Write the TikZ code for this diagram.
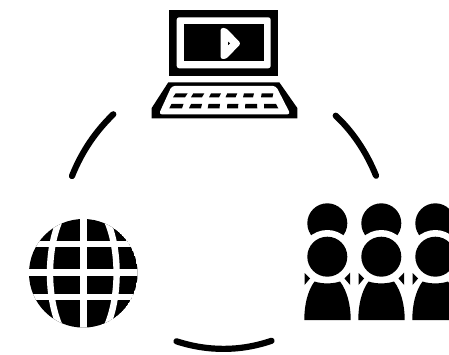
\documentclass[tikz,border=0pt]{standalone}
\begin{document}
\begin{tikzpicture}[x=1pt,y=-1pt,
  ink/.style={fill=black,draw=none},
  paper/.style={fill=white,draw=none},
  band/.style={draw=white,line width=6.4pt},
  arc/.style={draw=black,line width=6.2pt,line cap=round}]
\useasboundingbox (0,0) rectangle (449,355);
\fill[white] (0,0) rectangle (449,355);
% connector arcs
\draw[arc] (72,176) .. controls (82,151) and (96,131) .. (113.3,114.3);
\draw[arc] (335.7,115.7) .. controls (352,131) and (366,151) .. (376,175.7);
\draw[arc] (176.5,341.3) .. controls (208,351.5) and (240,351.5) .. (271.5,340.8);
% laptop
\fill[ink] (169.3,10) rectangle (278,75.7);
\fill[paper,rounded corners=2.5pt] (176.7,17.3) rectangle (270.7,68.3);
\fill[ink] (184.3,24.3) rectangle (264,61);
\fill[paper,rounded corners=2.5pt] (220.5,28) -- (220.5,59) -- (226,59) -- (241,43.5) -- (226,28) -- cycle;
\fill[ink] (228,41.6) -- (228,45.2) -- (230,43.4) -- cycle;
\fill[ink] (168.3,82.3) -- (279.3,82.3) -- (297.3,108) -- (297.3,118.3) -- (151.7,118.3) -- (151.7,108) -- cycle;
\fill[paper,rounded corners=3pt] (171.7,86) -- (276,86) -- (290.5,114.3) -- (158.8,114.3) -- cycle;
\foreach \a/\b/\c/\d in {175.7/187.7/173/185, 193.3/204.3/191/202, 211/221/209/219, 227.3/237.3/225.5/235.5, 244/254/243/253, 261.7/273.3/261/272.5}{
  \fill[ink] (\a,93.3) -- (\b,93.3) -- (\d,97.3) -- (\c,97.3) -- cycle;}
\foreach \a/\b/\c/\d in {171.5/183.5/169.3/182, 191/202/189/201, 208.5/220/207.7/219.5, 227.3/238.3/227/238, 245.3/257/245/257.3, 264/276/264/278.3}{
  \fill[ink] (\a,104) -- (\b,104) -- (\d,108.3) -- (\c,108.3) -- cycle;}
% people
\foreach \x in {0,54,108}{
  \begin{scope}[xshift=\x pt]
  \fill[ink] (327.3,223.3) circle (20);
  \fill[paper] (327.3,256.7) circle (26.7);
  \fill[ink] (327.3,256.7) circle (20);
  \fill[ink] (304.3,320) .. controls (304.3,305) and (307.5,291) .. (314.5,281.5)
     .. controls (322,284) and (332.6,284) .. (340,281.5)
     .. controls (347.2,291) and (350.7,305) .. (350.7,320) -- cycle;
  \fill[ink] (304.5,273) -- (304.5,285) -- (310,278.5) -- cycle;
  \fill[ink] (350.2,272.5) -- (350.2,285) -- (344.5,278.5) -- cycle;
  \end{scope}}
% globe
\begin{scope}
  \clip (83.3,273.3) circle (54.3);
  \fill[ink] (83.3,273.3) circle (54.3);
  \draw[band] (83.3,200) -- (83.3,340);
  \draw[band] (83.3,273.3) ellipse (33.3 and 75);
  \draw[band] (20,244) -- (150,244);
  \draw[band] (20,272.5) -- (150,272.5);
  \draw[band] (20,297) -- (150,297);
\end{scope}
\end{tikzpicture}
\end{document}
